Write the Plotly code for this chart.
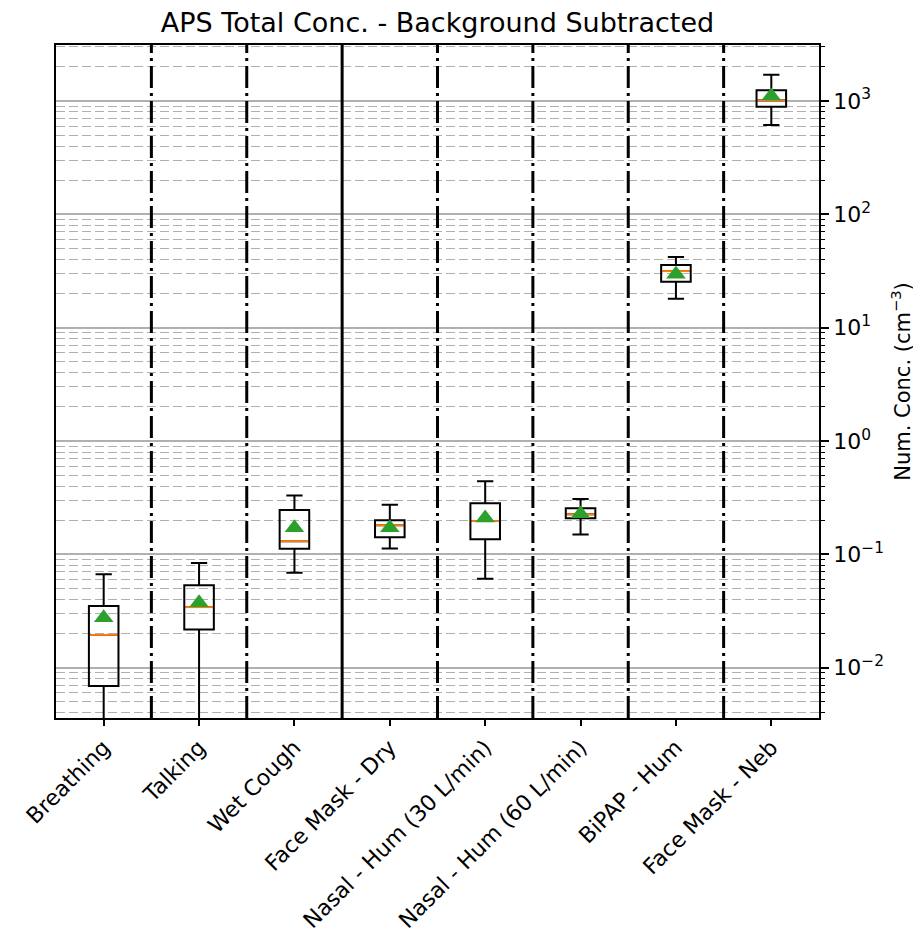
import plotly.graph_objects as go

categories = ["Breathing", "Talking", "Wet Cough", "Face Mask - Dry",
              "Nasal - Hum (30 L/min)", "Nasal - Hum (60 L/min)",
              "BiPAP - Hum", "Face Mask - Neb"]
lower_whisker = [0.001, 0.001, 0.069, 0.113, 0.061, 0.150, 18.0, 614]
q1 = [0.0069, 0.0218, 0.112, 0.142, 0.136, 0.209, 25.5, 891]
median = [0.0195, 0.0343, 0.131, 0.181, 0.197, 0.226, 31.6, 1014]
q3 = [0.035, 0.0536, 0.247, 0.200, 0.283, 0.255, 35.7, 1243]
upper_whisker = [0.067, 0.084, 0.331, 0.274, 0.443, 0.309, 42.0, 1706]
means = [0.0276, 0.0374, 0.172, 0.172, 0.21, 0.228, 29.6, 1107]

major_vals = [10.0 ** e for e in range(-3, 4)]
major_text = ["10<sup>%s</sup>" % (str(e) if e >= 0 else "\u2212" + str(-e)) for e in range(-3, 4)]
minor_vals = [k * 10.0 ** e for e in range(-3, 4) for k in range(2, 10)]

xs = list(range(len(categories)))
box_w = 0.31

fig = go.Figure()
fig.add_trace(go.Box(
    x=xs, q1=q1, median=median, q3=q3,
    lowerfence=lower_whisker, upperfence=upper_whisker,
    width=box_w, whiskerwidth=0.55,
    line=dict(color="black", width=2),
    fillcolor="rgba(0,0,0,0)",
    boxpoints=False, showlegend=False, hoverinfo="skip",
))

mx, my = [], []
for i, m in zip(xs, median):
    mx += [i - box_w / 2 + 0.01, i + box_w / 2 - 0.01, None]
    my += [m, m, None]
fig.add_trace(go.Scatter(x=mx, y=my, mode="lines",
                         line=dict(color="#ff7f0e", width=2),
                         showlegend=False, hoverinfo="skip"))
fig.add_trace(go.Scatter(x=xs, y=means, mode="markers",
                         marker=dict(symbol="triangle-up", size=17, color="#2ca02c"),
                         showlegend=False))

# separators between categories
for k in range(len(categories) - 1):
    fig.add_shape(type="line", xref="x", yref="paper",
                  x0=k + 0.5, x1=k + 0.5, y0=0, y1=1,
                  line=dict(color="black", width=3,
                            dash="solid" if k == 2 else "22px,5px,3px,5px"),
                  layer="above")

fig.update_layout(
    width=921, height=933,
    margin=dict(l=48, r=110, t=37, b=223),
    plot_bgcolor="white", paper_bgcolor="white",
    font=dict(family="DejaVu Sans", size=22, color="black"),
    title=dict(text="APS Total Conc. - Background Subtracted",
               x=0.5, xref="paper", xanchor="center",
               y=1 - 15 / 933, yanchor="middle",
               font=dict(size=27, color="black")),
)
fig.update_xaxes(
    range=[-0.5, 7.5], tickmode="array", tickvals=xs, ticktext=categories,
    tickangle=-45, ticks="outside", ticklen=6, tickwidth=1.5, tickcolor="black",
    showgrid=False, zeroline=False, automargin=False,
    showline=True, linecolor="black", linewidth=1.8, mirror=True,
    tickfont=dict(size=22),
)
fig.update_yaxes(
    type="log", range=[-2.443, 3.494], side="right", automargin=False,
    tickmode="array", tickvals=major_vals, ticktext=major_text,
    ticks="outside", ticklen=8, tickwidth=1.5, tickcolor="black",
    showgrid=True, gridcolor="#b0b0b0", gridwidth=1.5,
    zeroline=False,
    showline=True, linecolor="black", linewidth=1.8, mirror=True,
    tickfont=dict(size=22),
    title=dict(text="Num. Conc. (cm<sup>\u22123</sup>)", font=dict(size=21), standoff=12),
    minor=dict(tickmode="array", tickvals=minor_vals, ticks="outside", ticklen=4,
               tickwidth=1, tickcolor="black",
               showgrid=True, gridcolor="#b0b0b0", gridwidth=1, griddash="9px,4px"),
)

fig.write_html("out.html")
